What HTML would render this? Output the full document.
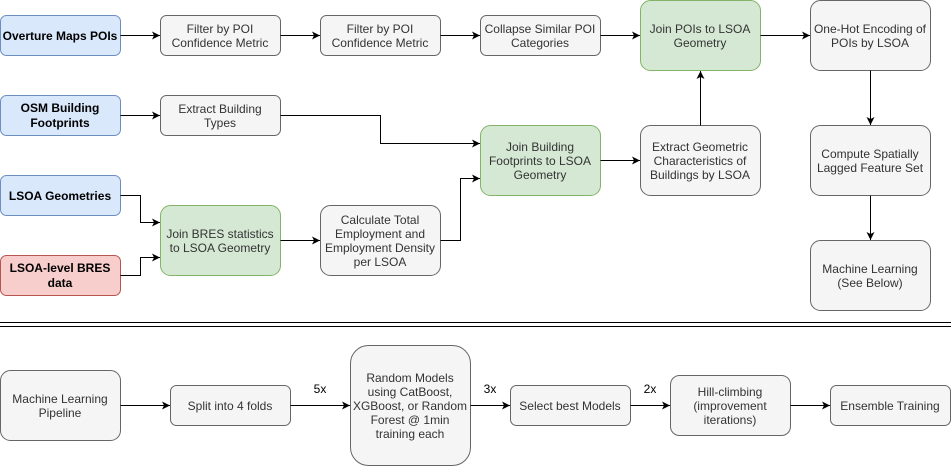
<!DOCTYPE html>
<html><head><meta charset="utf-8"><style>
body{margin:0;background:#fff}
text{font-family:"Liberation Sans",Arial,sans-serif;font-size:12px;fill:#333;text-anchor:middle}
.b{font-weight:bold;fill:#000}
</style></head><body>
<svg width="951" height="466" viewBox="0 0 951 466" xmlns="http://www.w3.org/2000/svg">
<defs><marker id="a" markerWidth="10" markerHeight="10" refX="9" refY="5" orient="auto" markerUnits="userSpaceOnUse"><path d="M1,1 L9,5 L1,9 L3,5 Z" fill="#000"/></marker></defs>
<g stroke-width="1">
<rect x="0.5" y="15.5" width="120" height="40" rx="6" fill="#dae8fc" stroke="#6c8ebf"/>
<rect x="0.5" y="95.5" width="120" height="40" rx="6" fill="#dae8fc" stroke="#6c8ebf"/>
<rect x="0.5" y="175.5" width="120" height="40" rx="6" fill="#dae8fc" stroke="#6c8ebf"/>
<rect x="0.5" y="255.5" width="120" height="40" rx="6" fill="#f8cecc" stroke="#b85450"/>
<g fill="#f5f5f5" stroke="#666">
<rect x="160.5" y="15.5" width="120" height="40" rx="6"/>
<rect x="320.5" y="15.5" width="120" height="40" rx="6"/>
<rect x="480.5" y="15.5" width="120" height="40" rx="6"/>
<rect x="810.5" y="0.5" width="120" height="70" rx="10"/>
<rect x="160.5" y="95.5" width="120" height="40" rx="6"/>
<rect x="640.5" y="125.5" width="120" height="70" rx="10"/>
<rect x="810.5" y="125.5" width="120" height="70" rx="10"/>
<rect x="320.5" y="205.5" width="120" height="70" rx="10"/>
<rect x="810.5" y="240.5" width="120" height="70" rx="10"/>
<rect x="0.5" y="370.5" width="120" height="70" rx="10"/>
<rect x="170.5" y="385.5" width="120" height="40" rx="6"/>
<rect x="350.5" y="345.5" width="120" height="120" rx="18"/>
<rect x="510.5" y="385.5" width="120" height="40" rx="6"/>
<rect x="670.5" y="375.5" width="120" height="60" rx="9"/>
<rect x="830.5" y="385.5" width="120" height="40" rx="6"/>
</g>
<g fill="#d5e8d4" stroke="#82b366">
<rect x="640.5" y="0.5" width="120" height="70" rx="10"/>
<rect x="480.5" y="125.5" width="120" height="70" rx="10"/>
<rect x="160.5" y="205.5" width="120" height="70" rx="10"/>
</g>
<g stroke="#000" fill="none" marker-end="url(#a)">
<path d="M120.5 35.5H160"/>
<path d="M280.5 35.5H320"/>
<path d="M440.5 35.5H480"/>
<path d="M600.5 35.5H640"/>
<path d="M760.5 35.5H810"/>
<path d="M120.5 115.5H160"/>
<path d="M280.5 115.5H380.5V143.5H480"/>
<path d="M600.5 160.5H640"/>
<path d="M700.5 125.5V71"/>
<path d="M870.5 70.5V125"/>
<path d="M870.5 195.5V240"/>
<path d="M120.5 195.5H140.5V222.5H160"/>
<path d="M120.5 275.5H140.5V257.5H160"/>
<path d="M280.5 240.5H320"/>
<path d="M440.5 240.5H460.5V178.5H480"/>
<path d="M120.5 405.5H170"/>
<path d="M290.5 405.5H350"/>
<path d="M470.5 405.5H510"/>
<path d="M630.5 405.5H670"/>
<path d="M790.5 405.5H830"/>
</g>
<path d="M0 322.5H951M0 326.5H951" stroke="#000"/>
</g>
<text class="b" x="60" y="40">Overture Maps POIs</text>
<text class="b" x="60" y="112">OSM Building</text><text class="b" x="60" y="127">Footprints</text>
<text class="b" x="60" y="200">LSOA Geometries</text>
<text class="b" x="60" y="272">LSOA-level BRES</text><text class="b" x="60" y="287">data</text>
<text x="220" y="33">Filter by POI</text><text x="220" y="47">Confidence Metric</text>
<text x="380" y="33">Filter by POI</text><text x="380" y="47">Confidence Metric</text>
<text x="540" y="33">Collapse Similar POI</text><text x="540" y="47">Categories</text>
<text x="700" y="33">Join POIs to LSOA</text><text x="700" y="47">Geometry</text>
<text x="870" y="33">One-Hot Encoding of</text><text x="870" y="47">POIs by LSOA</text>
<text x="220" y="113">Extract Building</text><text x="220" y="127">Types</text>
<text x="540" y="151">Join Building</text><text x="540" y="165">Footprints to LSOA</text><text x="540" y="179">Geometry</text>
<text x="700" y="151">Extract Geometric</text><text x="700" y="165">Characteristics of</text><text x="700" y="179">Buildings by LSOA</text>
<text x="870" y="158">Compute Spatially</text><text x="870" y="172">Lagged Feature Set</text>
<text x="220" y="238">Join BRES statistics</text><text x="220" y="252">to LSOA Geometry</text>
<text x="380" y="224">Calculate Total</text><text x="380" y="238">Employment and</text><text x="380" y="252">Employment Density</text><text x="380" y="266">per LSOA</text>
<text x="870" y="273">Machine Learning</text><text x="870" y="287">(See Below)</text>
<text x="60" y="403">Machine Learning</text><text x="60" y="417">Pipeline</text>
<text x="230" y="410">Split into 4 folds</text>
<text x="410" y="382">Random Models</text><text x="410" y="396">using CatBoost,</text><text x="410" y="410">XGBoost, or Random</text><text x="410" y="424">Forest @ 1min</text><text x="410" y="438">training each</text>
<text x="570" y="410">Select best Models</text>
<text x="730" y="396">Hill-climbing</text><text x="730" y="410">(improvement</text><text x="730" y="424">iterations)</text>
<text x="890" y="410">Ensemble Training</text>
<text x="320" y="393" style="fill:#000">5x</text>
<text x="490" y="393" style="fill:#000">3x</text>
<text x="650" y="393" style="fill:#000">2x</text>
</svg>
</body></html>
